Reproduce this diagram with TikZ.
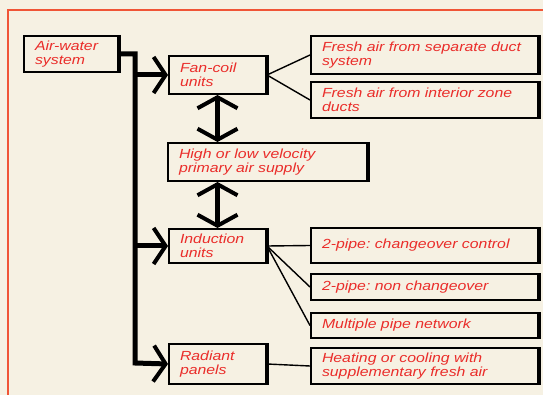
\documentclass[tikz,border=0pt]{standalone}
\usepackage{fontspec}
\newfontfamily\labfont[FakeStretch=1.2]{Liberation Sans}
\usetikzlibrary{arrows.meta}
\definecolor{paper}{RGB}{246,241,227}
\definecolor{labred}{RGB}{234,45,42}
\definecolor{framered}{RGB}{240,85,55}
\tikzset{
  box/.style={draw, line width=2pt, anchor=north west, align=left,
    inner xsep=11pt, inner ysep=0pt, text=labred,
    font=\labfont\itshape\fontsize{13.2}{14}\selectfont},
  trunk/.style={line width=5pt, line join=miter},
  feed/.style={line width=1.4pt}
}
\frenchspacing
\begin{document}
\begin{tikzpicture}[x=1pt,y=-1pt,>={Straight Barb[length=12pt,width=36pt,line width=4pt]}]

\useasboundingbox (0,0) rectangle (543,395);
\fill [paper] (0,0) rectangle (543,395);
\draw [framered,line width=1.5pt] (8,395) -- (8,10) -- (543,10);

% left column
\node [box, text width=72pt, minimum height=36pt] (aw) at (23,35) {Air-water\\system};

% middle column
\node [box, text width=75pt, minimum height=38pt] (fc) at (168,55) {Fan-coil\\units};
\node [box, text width=177pt, minimum height=38pt] (hlv) at (167,142) {High or low velocity\\primary air supply};
\node [box, text width=75pt, minimum height=34pt] (ind) at (168,228) {Induction\\units};
\node [box, text width=75pt, minimum height=40pt] (rad) at (168,343) {Radiant\\panels};

% right column
\node [box, text width=205pt, minimum height=38pt] (fr1) at (310,35) {Fresh air from separate duct\\system};
\node [box, text width=205pt, minimum height=36pt] (fr2) at (310,81) {Fresh air from interior zone\\ducts};
\node [box, text width=205pt, minimum height=35pt] (p1) at (310,227) {2-pipe: changeover control};
\node [box, text width=205pt, minimum height=26pt] (p2) at (310,273) {2-pipe: non changeover};
\node [box, text width=205pt, minimum height=25pt] (p3) at (310,312) {Multiple pipe network};
\node [box, text width=205pt, minimum height=36pt] (heat) at (310,347) {Heating or cooling with\\supplementary fresh air};

% heavier right edges
\foreach \n in {aw,fc,hlv,ind,rad,fr1,fr2,p1,p2,p3,heat}
  \draw [line width=3.5pt] (\n.north east) -- (\n.south east);

% main trunk
\coordinate (tr) at (135,363);
\draw [trunk,->] (aw.east) -| (tr) -- (rad.west);
\draw [trunk,->] (tr |- fc.west) -- (fc.west);
\draw [trunk,->] (tr |- ind.west) -- (ind.west);

% primary air
\draw [trunk,<->,>={Straight Barb[length=11pt,width=40pt,line width=4pt]}] (fc.south) -- (fc.south |- hlv.north);
\draw [trunk,<->,>={Straight Barb[length=11pt,width=40pt,line width=4pt]}] (ind.north |- hlv.south) -- (ind.north);

% sub-types
\foreach \t in {fr1,fr2}
  \draw [feed] (fc.east) -- (\t.west);
\foreach \t in {p1,p2,p3}
  \draw [feed] (ind.east) -- (\t.west);
\draw [feed] (rad.east) -- (heat.west);

\end{tikzpicture}
\end{document}
